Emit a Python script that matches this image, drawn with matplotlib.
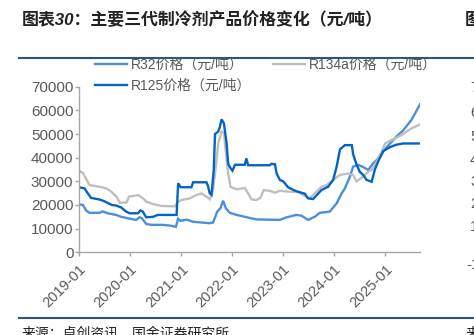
import matplotlib
matplotlib.use("Agg")
import matplotlib.pyplot as plt
import matplotlib.dates as mdates
import pandas as pd
from matplotlib.lines import Line2D

plt.rcParams["font.family"] = ["Liberation Sans", "Noto Sans CJK SC", "DejaVu Sans"]

# ---- price series (yuan / ton) ----
r32_dates = [
    "2019-01-01", "2019-01-29", "2019-02-22", "2019-03-16", "2019-05-27", "2019-06-20",
    "2019-07-25", "2019-09-24", "2019-10-29", "2019-12-16", "2020-02-14", "2020-03-09",
    "2020-03-25", "2020-04-26", "2020-06-01", "2020-08-23", "2020-10-13", "2020-11-25",
    "2020-12-11", "2020-12-29", "2021-02-10", "2021-03-28", "2021-07-25", "2021-08-18",
    "2021-09-17", "2021-10-10", "2021-10-29", "2021-11-18", "2021-12-16", "2022-02-03",
    "2022-04-02", "2022-06-25", "2022-12-09", "2023-01-27", "2023-04-07", "2023-05-13",
    "2023-06-29", "2023-08-16", "2023-09-22", "2023-12-02", "2024-01-20", "2024-02-25",
    "2024-03-19", "2024-04-24", "2024-05-17", "2024-06-22", "2024-07-28", "2024-09-02",
    "2024-10-08", "2024-11-13", "2025-01-13", "2025-03-24", "2025-05-10", "2025-07-09",
    "2025-09-08",
]
r32_values = [
    20300, 20000, 17600, 16700, 16700, 17300,
    16500, 15800, 15000, 14400, 13700, 14800,
    14500, 12000, 11600, 11600, 11300, 10800,
    14200, 13300, 13800, 12900, 12300, 12600,
    17200, 18600, 21800, 18600, 16700, 15800,
    15000, 13900, 13700, 14800, 15800, 15500,
    13700, 15000, 16700, 17200, 20700, 24900,
    27000, 32000, 36200, 37000, 36000, 34800,
    37600, 39700, 44500, 49000, 51500, 56000,
    62500,
]

r134a_dates = [
    "2019-01-01", "2019-01-29", "2019-02-25", "2019-03-18", "2019-05-29", "2019-07-16",
    "2019-08-21", "2019-09-27", "2019-10-20", "2019-12-07", "2019-12-24", "2020-02-28",
    "2020-04-04", "2020-04-28", "2020-06-15", "2020-08-14", "2020-11-18", "2020-12-11",
    "2021-01-05", "2021-03-04", "2021-04-21", "2021-05-27", "2021-07-02", "2021-07-25",
    "2021-08-18", "2021-09-07", "2021-09-24", "2021-10-18", "2021-11-04", "2021-11-18",
    "2021-12-04", "2021-12-21", "2022-02-03", "2022-04-02", "2022-04-26", "2022-05-20",
    "2022-06-25", "2022-07-23", "2022-08-16", "2022-09-28", "2022-11-04", "2022-12-09",
    "2023-02-20", "2023-04-18", "2023-05-24", "2023-07-11", "2023-08-28", "2023-10-03",
    "2023-11-09", "2023-12-26", "2024-02-13", "2024-04-11", "2024-05-17", "2024-06-11",
    "2024-07-16", "2024-09-02", "2024-09-27", "2024-11-02", "2024-12-07", "2025-01-01",
    "2025-02-18", "2025-04-29", "2025-07-09", "2025-09-08",
]
r134a_values = [
    34500, 33500, 30600, 28400, 27700, 27000,
    25600, 23500, 21000, 21000, 23500, 24200,
    22800, 21400, 20400, 19600, 19400, 21400,
    22100, 22800, 24200, 24900, 23500, 22400,
    26300, 36200, 46000, 51000, 50500, 41800,
    33400, 27700, 26600, 27200, 24900, 22400,
    22100, 23000, 26300, 26000, 25200, 26000,
    25600, 25600, 24200, 22800, 25600, 27700,
    28400, 30600, 32700, 33300, 32700, 30000,
    31500, 34000, 34800, 38300, 42500, 46000,
    47500, 49600, 52400, 54000,
]

r125_dates = [
    "2019-01-01", "2019-02-10", "2019-03-04", "2019-03-28", "2019-05-29", "2019-07-04",
    "2019-08-24", "2019-09-22", "2019-10-29", "2019-12-05", "2019-12-29", "2020-02-27",
    "2020-03-16", "2020-04-02", "2020-04-26", "2020-06-13", "2020-07-19", "2020-11-30",
    "2020-12-11", "2020-12-29", "2021-03-16", "2021-03-28", "2021-07-02", "2021-07-13",
    "2021-07-25", "2021-08-07", "2021-08-23", "2021-09-01", "2021-09-24", "2021-10-06",
    "2021-10-18", "2021-11-04", "2021-11-23", "2021-12-04", "2021-12-16", "2022-01-04",
    "2022-01-22", "2022-04-02", "2022-04-14", "2022-04-26", "2022-09-28", "2022-10-10",
    "2022-11-04", "2022-11-16", "2022-12-09", "2023-01-02", "2023-02-08", "2023-04-07",
    "2023-06-06", "2023-06-29", "2023-08-04", "2023-08-28", "2023-10-03", "2023-11-20",
    "2023-12-26", "2024-01-20", "2024-02-13", "2024-03-19", "2024-05-08", "2024-05-17",
    "2024-06-11", "2024-07-04", "2024-07-28", "2024-08-21", "2024-09-27", "2024-10-20",
    "2024-11-13", "2024-12-19", "2025-02-06", "2025-03-24", "2025-05-10", "2025-09-08",
]
r125_values = [
    27500, 27000, 25000, 23000, 22300, 21500,
    20000, 19800, 19000, 17200, 16500, 16500,
    17700, 17200, 14800, 15000, 15800, 15800,
    29200, 27500, 27500, 29600, 29600, 28000,
    24900, 24300, 34800, 50000, 51000, 53100,
    56200, 54500, 46000, 37600, 36000, 34500,
    37000, 37000, 39700, 36800, 36800, 37400,
    37200, 33400, 30600, 30000, 27400, 25800,
    24800, 22800, 22500, 24000, 26300, 27700,
    30600, 36200, 43500, 45300, 45300, 41500,
    37000, 34000, 32700, 30600, 29800, 35000,
    38500, 42800, 44500, 45500, 46000, 46000,
]

labels = ["R32价格（元/吨）", "R134a价格（元/吨）", "R125价格（元/吨）"]
colors = ["#4A8FDE", "#BFBFBF", "#0563C6"]
year_ticks = ["2019-01", "2020-01", "2021-01", "2022-01", "2023-01", "2024-01", "2025-01"]
y_ticks = [0, 10000, 20000, 30000, 40000, 50000, 60000, 70000]

title = "图表30：主要三代制冷剂产品价格变化（元/吨）"
source = "来源：卓创资讯，国金证券研究所"

W, H = 474, 335
fig = plt.figure(figsize=(W / 100, H / 100), dpi=100)
fig.patch.set_facecolor("white")

ax = fig.add_axes([79 / W, 1 - 252.3 / H, (420 - 79) / W, (252.3 - 86.7) / H])

series = [
    (r32_dates, r32_values),
    (r134a_dates, r134a_values),
    (r125_dates, r125_values),
]
handles = []
for (d, v), lab, c in zip(series, labels, colors):
    ln, = ax.plot(pd.to_datetime(d), v, color=c, lw=1.7, label=lab,
                  solid_joinstyle="miter")
    handles.append(ln)

ax.set_xlim(pd.Timestamp(r32_dates[0]), pd.Timestamp(r32_dates[-1]))
ax.set_ylim(y_ticks[0], y_ticks[-1])
ax.set_yticks(y_ticks)
ax.set_xticks(pd.to_datetime([t + "-01" for t in year_ticks]))
ax.xaxis.set_major_formatter(mdates.DateFormatter("%Y-%m"))

for s in ["top", "right"]:
    ax.spines[s].set_visible(False)
for s in ["left", "bottom"]:
    ax.spines[s].set_color("#A6A6A6")
    ax.spines[s].set_linewidth(1.0)

ax.tick_params(axis="both", colors="#A6A6A6", length=3, width=1.0,
               labelcolor="#595959", labelsize=11)
ax.tick_params(axis="y", pad=1)
ax.tick_params(axis="x", pad=4, labelsize=10.5)
for lbl in ax.get_xticklabels():
    lbl.set_rotation(45)
    lbl.set_ha("right")
    lbl.set_va("top")
    lbl.set_rotation_mode("anchor")

# legend: two entries on the first row, one on the second
leg = fig.legend([handles[0], handles[2], handles[1]],
                 [labels[0], labels[2], labels[1]],
                 ncol=2, loc="upper left", bbox_to_anchor=(95 / W, 1 - 58 / H),
                 frameon=False, fontsize=10, handlelength=2.3, handletextpad=0.25,
                 columnspacing=1.6, labelspacing=0.5, borderpad=0, borderaxespad=0)
for t in leg.get_texts():
    t.set_color("#595959")

# header and footer
fig.text(22 / W, 1 - 20 / H, title, fontsize=12.2, fontweight="bold",
         fontstyle="italic", color="#222222", va="center", ha="left")
fig.text(465 / W, 1 - 20 / H, "图", fontsize=12.2, fontweight="bold",
         color="#222222", va="center", ha="left")
fig.add_artist(Line2D([19 / W, 1], [1 - 57.5 / H] * 2, color="#2B5581", lw=1.5))
fig.add_artist(Line2D([19 / W, 1], [1 - 318.3 / H] * 2, color="#2B5581", lw=1.5))
fig.text(22 / W, 1 - 327 / H, source, fontsize=10, color="#222222",
         va="top", ha="left")
fig.text(466 / W, 1 - 327 / H, "来", fontsize=10, color="#222222",
         va="top", ha="left")

# neighbouring panel's axis labels at the right edge
side_labels = ["7", "6", "5", "4", "3", "2", "1", "-1"]
side_y = [88, 113, 137, 160, 182, 204, 227, 265]
for s, yy in zip(side_labels, side_y):
    fig.text((470 if s != "-1" else 466) / W, 1 - yy / H, s, fontsize=11,
             color="#595959", va="center", ha="left")

fig.savefig("out.png", dpi=100)
